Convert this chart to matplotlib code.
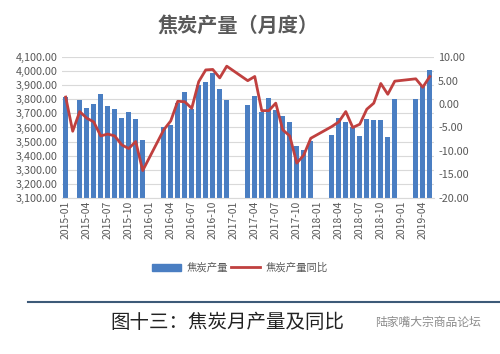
import matplotlib
matplotlib.use("Agg")
import matplotlib.pyplot as plt
import numpy as np
from matplotlib.lines import Line2D
from matplotlib.patches import Patch

plt.rcParams["font.family"] = ["Noto Sans CJK SC", "DejaVu Sans"]

nan = np.nan

years = ["2015", "2016", "2017", "2018", "2019"]
months_per_year = [12, 12, 12, 12, 5]

# 焦炭产量 (万吨), monthly
output_2015 = [3820, nan, 3795, 3737, 3765, 3836, 3751, 3732, 3668, 3713, 3661, 3513]
output_2016 = [nan, nan, 3605, 3618, 3772, 3851, 3729, 3903, 3927, 3991, 3872, 3796]
output_2017 = [nan, nan, 3758, 3824, 3713, 3813, 3725, 3684, 3642, 3471, 3440, 3506]
output_2018 = [nan, nan, 3547, 3665, 3639, 3601, 3542, 3661, 3651, 3651, 3532, 3801]
output_2019 = [nan, nan, 3801, 3903, 4010]

# 焦炭产量同比 (%)
yoy_2015 = [1.5, -5.8, -1.6, -3.0, -3.8, -6.8, -6.4, -6.8, -8.7, -9.5, -8.0, -14.2]
yoy_2016 = [nan, nan, -5.5, -3.6, 0.6, 0.5, -0.9, 4.8, 7.3, 7.4, 5.6, 8.1]
yoy_2017 = [nan, nan, 5.0, 5.9, -1.4, -1.4, 0.2, -5.5, -6.8, -12.6, -10.9, -7.3]
yoy_2018 = [nan, nan, -4.8, -3.8, -1.6, -5.0, -4.3, -1.1, 0.2, 4.4, 2.1, 4.9]
yoy_2019 = [nan, nan, 5.4, 3.6, 5.9]

BAR_COLOR = "#4A7EC2"
LINE_COLOR = "#C0403F"
TEXT_COLOR = "#595959"


def main() -> None:
    labels = [f"{y}-{m:02d}" for y, n in zip(years, months_per_year) for m in range(1, n + 1)]
    output = np.array(output_2015 + output_2016 + output_2017 + output_2018 + output_2019, dtype=float)
    yoy = np.array(yoy_2015 + yoy_2016 + yoy_2017 + yoy_2018 + yoy_2019, dtype=float)
    x = np.arange(len(labels))

    fig = plt.figure(figsize=(5.0, 3.54), dpi=100)
    ax = fig.add_axes([0.123, 0.4415, 0.745, 0.3967])
    ax2 = ax.twinx()

    ax.set_axisbelow(True)
    ok = ~np.isnan(output)
    ax.bar(x[ok], output[ok], width=0.72, color=BAR_COLOR, zorder=2)
    ax.set_ylim(3100, 4100)
    ax.set_yticks(np.arange(3100, 4101, 100))
    ax.yaxis.set_major_formatter(matplotlib.ticker.FuncFormatter(lambda v, p: f"{v:,.2f}"))
    ax.grid(axis="y", color="#D9D9D9", linewidth=0.8)
    ax.set_xlim(-0.6, len(labels) - 0.4)
    ax.set_xticks(x[::3])
    ax.set_xticklabels(labels[::3], rotation=90, color=TEXT_COLOR)

    ok2 = ~np.isnan(yoy)
    ax2.plot(x[ok2], yoy[ok2], color=LINE_COLOR, linewidth=2.0, zorder=3)
    ax2.set_ylim(-20, 10)
    ax2.set_yticks(np.arange(-20, 10.1, 5))
    ax2.yaxis.set_major_formatter(matplotlib.ticker.FuncFormatter(lambda v, p: f"{v:.2f}"))

    for a in (ax, ax2):
        for s in a.spines.values():
            s.set_visible(False)
        a.tick_params(length=0, labelsize=7.8, labelcolor=TEXT_COLOR, pad=3)
    ax.tick_params(axis="x", labelsize=7.5, pad=2)
    ax.spines["bottom"].set_visible(True)
    ax.spines["bottom"].set_color("#D9D9D9")

    fig.text(0.476, 0.928, "焦炭产量（月度）", ha="center", va="center",
             fontsize=14.5, fontweight="bold", color=TEXT_COLOR)

    handles = [Patch(color=BAR_COLOR), Line2D([0], [0], color=LINE_COLOR, linewidth=2)]
    fig.legend(handles, ["焦炭产量", "焦炭产量同比"], loc="center", bbox_to_anchor=(0.48, 0.243),
               ncol=2, frameon=False, fontsize=7.5, labelcolor=TEXT_COLOR,
               handlelength=2.8, handletextpad=0.5, columnspacing=0.3)

    fig.add_artist(Line2D([0.056, 1.0], [0.148, 0.148], color="#3D5A78", linewidth=1.5))
    fig.text(0.22, 0.09, "图十三：焦炭月产量及同比", ha="left", va="center",
             fontsize=14, color="#222222")
    fig.text(0.75, 0.09, "陆家嘴大宗商品论坛", ha="left", va="center",
             fontsize=8.5, color="#8C8C8C")

    fig.savefig("out.png", dpi=100)
    plt.close(fig)


if __name__ == "__main__":
    main()
